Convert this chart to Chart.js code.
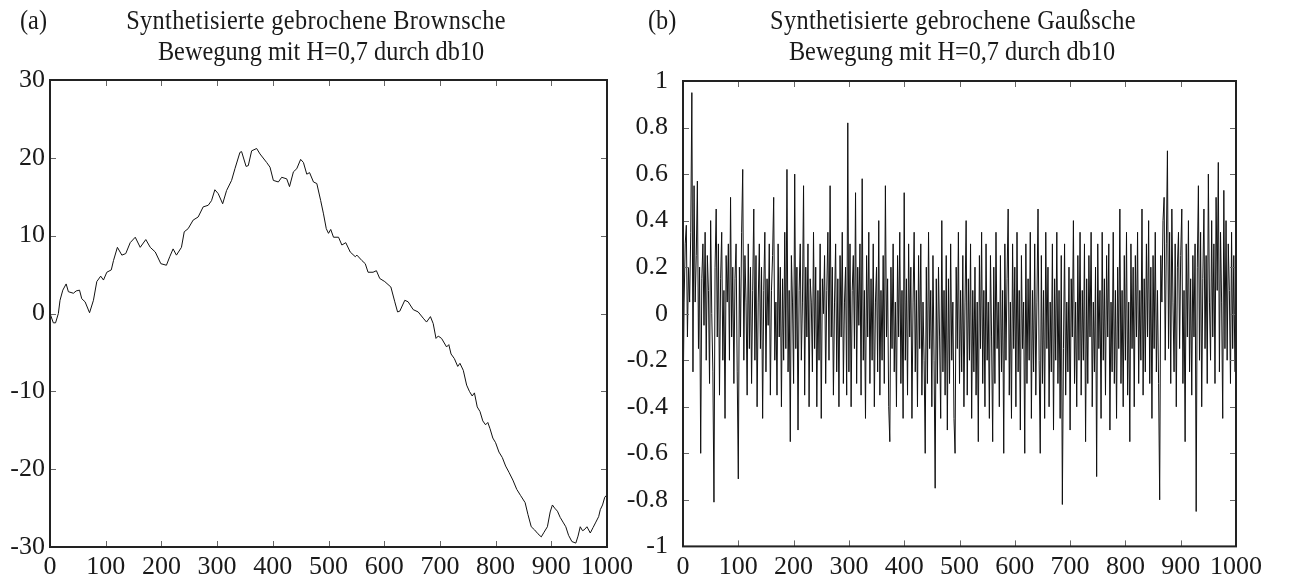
<!DOCTYPE html>
<html>
<head>
<meta charset="utf-8">
<script src="https://cdn.jsdelivr.net/npm/chart.js@4.4.1/dist/chart.umd.min.js"></script>
<style>
  html, body { margin: 0; padding: 0; background: #fff; }
  #wrap { position: relative; width: 1291px; height: 577px; overflow: hidden; background: #fff; }
  canvas { position: absolute; left: 0; top: 0; }
  .t { position: absolute; font-family: "Liberation Serif", "Times New Roman", serif; font-size: 27px;
       color: #1a1a1a; white-space: nowrap; line-height: 1; transform-origin: 0 0; transform: scaleX(0.9); }
  .c { transform: translateX(-50%) scaleX(0.9); transform-origin: 50% 0; }
  .sp { letter-spacing: 0.4px; }
</style>
</head>
<body>
<div id="wrap">
  <canvas id="chartA" width="1291" height="577"></canvas>
  <canvas id="chartB" width="1291" height="577"></canvas>
  <div class="t" style="left:20px; top:7px;">(a)</div>
  <div class="t c sp" style="left:316px; top:7px;">Synthetisierte gebrochene Brownsche</div>
  <div class="t c" style="left:321px; top:38px;">Bewegung mit H=0,7 durch db10</div>
  <div class="t" style="left:648px; top:7px;">(b)</div>
  <div class="t c sp" style="left:953px; top:7px;">Synthetisierte gebrochene Gaußsche</div>
  <div class="t c" style="left:952px; top:38px;">Bewegung mit H=0,7 durch db10</div>
</div>
<script>
// Sample index ticks shared by both panels
const xTicks = [0, 100, 200, 300, 400, 500, 600, 700, 800, 900, 1000];
const brownTicks = [-30, -20, -10, 0, 10, 20, 30];
const gaussTicks = [-1, -0.8, -0.6, -0.4, -0.2, 0, 0.2, 0.4, 0.6, 0.8, 1];

// (a) fractional Brownian motion, H = 0.7
const brownX = [0, 6, 10, 15, 18, 23, 29, 33, 42, 47, 53, 57, 63, 71, 78, 84, 91, 96, 102, 110,
  114, 121, 129, 136, 144, 153, 162, 172, 180, 189, 199, 209, 215, 221, 227, 236, 241, 248, 257, 266,
  275, 284, 290, 296, 302, 310, 317, 326, 332, 341, 344, 352, 356, 362, 371, 377, 389, 395, 401, 410,
  416, 425, 430, 437, 443, 450, 455, 461, 466, 473, 479, 486, 491, 496, 500, 504, 509, 518, 524, 531,
  539, 548, 551, 560, 566, 571, 580, 586, 592, 601, 612, 619, 624, 628, 637, 643, 652, 661, 670, 676,
  683, 688, 693, 697, 703, 712, 716, 720, 726, 732, 736, 742, 748, 753, 758, 762, 767, 772, 777, 782,
  786, 790, 795, 800, 806, 812, 818, 824, 831, 838, 845, 853, 858, 864, 870, 876, 882, 887, 893, 898,
  902, 906, 911, 916, 921, 926, 931, 937, 944, 948, 952, 956, 959, 964, 970, 975, 980, 985, 988, 992,
  996, 1000];
const brownY = [0, -1.2, -1.2, 0, 1.7, 3.0, 3.8, 2.8, 2.6, 2.9, 3.0, 1.9, 1.5, 0.1, 1.7, 4.1, 4.8, 4.3, 5.3, 5.6,
  6.8, 8.5, 7.5, 7.7, 9.1, 9.8, 8.5, 9.5, 8.5, 7.9, 6.4, 6.2, 7.3, 8.3, 7.5, 8.5, 10.5, 10.9, 12.0, 12.4,
  13.7, 13.9, 14.5, 15.9, 15.4, 14.1, 15.8, 17.1, 18.6, 20.7, 20.8, 18.9, 19.0, 20.9, 21.2, 20.5, 19.4, 18.8, 17.1, 16.9,
  17.5, 17.3, 16.3, 18.2, 18.6, 19.8, 19.4, 17.9, 18.1, 16.9, 16.7, 14.5, 12.8, 10.9, 10.3, 10.8, 9.8, 9.8, 8.8, 9.1,
  7.9, 7.3, 7.5, 6.8, 6.4, 5.3, 5.3, 5.5, 4.5, 4.1, 3.4, 1.5, 0.2, 0.3, 1.7, 1.5, 0.5, 0.2, -0.6, -1.1,
  -0.4, -1.3, -3.2, -2.9, -3.2, -4.3, -4.0, -5.2, -5.8, -6.8, -6.4, -7.3, -9.2, -10.0, -10.6, -10.2, -12.0, -12.6, -13.8, -14.3,
  -14.0, -14.8, -16.0, -16.6, -17.8, -18.5, -19.6, -20.4, -21.4, -22.6, -23.4, -24.3, -25.8, -27.4, -27.8, -28.3, -28.7, -28.1, -27.4, -25.5,
  -24.6, -25.0, -25.4, -26.2, -26.8, -27.4, -28.5, -29.3, -29.5, -28.6, -27.4, -27.9, -27.8, -27.4, -28.2, -27.5, -26.8, -26.1, -25.2, -24.6,
  -23.6, -23.3];

// (b) fractional Gaussian noise, H = 0.7 — every second sample of the 1000-sample record
const gaussStep = 2;
const gaussY = [
  -0.45, 0.05, 0.30, 0.38, -0.10, 0.20, 0.05, 0.35, 0.95, -0.25, 0.55, 0.05, 0.25, 0.57, -0.15, 0.20, -0.60, 0.15, 0.30, -0.05,
  0.35, -0.20, 0.25, 0.10, -0.30, 0.40, 0.00, -0.25, -0.81, 0.20, 0.45, -0.10, 0.30, -0.35, 0.15, 0.35, -0.20, 0.10, -0.45, 0.25,
  0.05, 0.30, -0.20, 0.50, -0.10, 0.20, -0.30, 0.15, 0.30, -0.25, -0.71, 0.20, -0.10, 0.35, 0.62, -0.20, 0.25, 0.05, -0.35, 0.30,
  -0.15, 0.20, -0.30, 0.10, 0.45, -0.20, 0.25, -0.40, 0.05, 0.30, -0.15, 0.20, -0.45, 0.10, 0.35, -0.25, 0.15, -0.05, 0.30, -0.35,
  0.10, 0.25, 0.50, -0.20, 0.05, -0.35, 0.30, -0.10, 0.20, -0.40, 0.15, -0.20, 0.35, -0.15, 0.62, -0.25, 0.10, -0.55, 0.25, 0.05,
  -0.30, 0.60, -0.15, 0.20, -0.50, 0.10, 0.30, -0.20, 0.05, 0.55, -0.35, 0.20, -0.10, 0.30, -0.40, 0.15, 0.05, -0.25, 0.35, -0.15,
  0.20, -0.40, 0.10, -0.20, 0.30, -0.45, 0.15, 0.00, 0.25, -0.30, 0.10, 0.35, -0.20, 0.55, -0.10, 0.20, -0.35, 0.05, 0.30, -0.25,
  0.15, -0.40, 0.25, -0.10, 0.35, -0.30, 0.05, 0.20, -0.35, 0.82, -0.25, 0.30, -0.40, 0.10, 0.25, -0.15, 0.52, -0.30, 0.20, -0.05,
  0.30, -0.35, 0.58, -0.20, 0.10, -0.45, 0.25, -0.10, 0.35, -0.30, 0.15, -0.20, 0.30, -0.40, 0.05, 0.20, -0.25, 0.40, -0.35, 0.10,
  -0.20, 0.25, -0.30, 0.55, -0.10, 0.15, -0.40, -0.55, 0.20, -0.15, 0.30, -0.25, 0.05, -0.40, 0.25, -0.10, 0.35, -0.30, 0.10, -0.45,
  0.52, -0.20, 0.15, -0.35, 0.30, -0.10, 0.20, -0.45, 0.05, 0.35, -0.25, 0.10, -0.40, 0.25, -0.15, 0.30, -0.35, 0.05, -0.20, -0.60,
  0.20, -0.30, 0.35, -0.15, 0.10, -0.40, 0.25, -0.20, -0.75, 0.15, -0.30, 0.20, -0.10, -0.45, 0.40, -0.25, 0.10, -0.35, 0.25, -0.50,
  0.15, -0.30, 0.30, -0.20, 0.05, -0.45, -0.60, 0.20, -0.15, 0.35, -0.30, 0.10, -0.25, 0.25, -0.40, 0.05, 0.40, -0.35, 0.15, -0.20,
  0.30, -0.45, 0.10, -0.25, 0.20, -0.35, 0.05, -0.55, 0.25, -0.15, 0.35, -0.30, 0.10, -0.40, 0.30, -0.20, 0.05, -0.45, 0.25, -0.10,
  -0.55, 0.20, -0.30, 0.35, -0.15, 0.05, -0.40, 0.25, -0.25, 0.10, -0.60, 0.30, -0.20, 0.15, 0.45, -0.35, 0.05, -0.45, 0.30, -0.15,
  0.20, -0.40, 0.35, -0.25, 0.10, -0.50, 0.25, -0.15, 0.05, -0.60, 0.30, -0.30, 0.15, -0.20, 0.35, -0.45, 0.10, -0.25, 0.30, -0.35,
  0.05, 0.45, -0.20, -0.60, 0.25, -0.30, 0.10, -0.45, 0.35, -0.15, 0.20, -0.40, 0.05, -0.25, 0.30, -0.50, 0.15, -0.20, 0.35, -0.30,
  0.10, -0.45, 0.25, -0.82, -0.15, 0.30, -0.35, 0.05, -0.25, 0.20, -0.50, 0.15, -0.10, 0.40, -0.30, 0.05, -0.40, 0.25, -0.20, 0.35,
  -0.35, 0.10, -0.20, 0.30, -0.55, 0.15, -0.30, 0.25, -0.10, 0.35, -0.40, 0.05, -0.25, 0.20, -0.70, 0.30, -0.15, 0.10, -0.45, 0.35,
  -0.20, 0.15, -0.35, 0.25, -0.10, 0.30, -0.50, 0.05, -0.25, 0.35, -0.30, 0.10, -0.45, 0.20, -0.15, 0.45, -0.30, 0.10, -0.40, 0.25,
  -0.20, 0.35, -0.35, 0.05, -0.55, 0.30, -0.15, 0.20, -0.40, 0.25, -0.10, 0.35, -0.30, 0.10, -0.20, 0.45, -0.35, 0.15, -0.25, 0.30,
  -0.10, 0.40, -0.30, 0.20, -0.45, 0.25, -0.15, 0.35, -0.25, 0.10, -0.30, -0.80, 0.25, 0.05, 0.40, 0.50, -0.20, 0.30, 0.70, -0.15,
  0.35, -0.30, 0.45, 0.05, -0.25, 0.30, -0.40, 0.20, 0.35, -0.15, 0.25, 0.45, -0.30, 0.10, -0.55, 0.30, -0.10, 0.40, -0.25, 0.15,
  -0.35, 0.25, -0.10, 0.30, -0.85, 0.20, 0.55, -0.20, 0.35, -0.40, 0.15, 0.45, -0.15, 0.25, -0.30, 0.60, 0.05, -0.20, 0.40, -0.10,
  0.30, -0.30, 0.50, 0.10, 0.65, -0.25, 0.35, 0.05, -0.45, 0.53, -0.15, 0.40, -0.20, 0.30, 0.10, -0.30, 0.35, -0.15, 0.25, -0.25
];

const FONT = { family: '"Liberation Serif", "Times New Roman", serif', size: 26 };
const INK = '#1a1a1a';

// Frame around the plot area with short inward ticks on all four sides
const frameTicks = {
  id: 'frameTicks',
  afterDraw(chart) {
    const { ctx, chartArea: a, scales: { x, y } } = chart;
    const len = 6;
    ctx.save();
    ctx.strokeStyle = '#666';
    ctx.lineWidth = 1;
    ctx.beginPath();
    x.ticks.forEach(t => {
      const px = Math.round(x.getPixelForValue(t.value)) + 0.5;
      ctx.moveTo(px, a.bottom); ctx.lineTo(px, a.bottom - len);
      ctx.moveTo(px, a.top); ctx.lineTo(px, a.top + len);
    });
    y.ticks.forEach(t => {
      const py = Math.round(y.getPixelForValue(t.value)) + 0.5;
      ctx.moveTo(a.left, py); ctx.lineTo(a.left + len, py);
      ctx.moveTo(a.right, py); ctx.lineTo(a.right - len, py);
    });
    ctx.stroke();
    ctx.strokeStyle = '#222';
    ctx.lineWidth = 2;
    ctx.strokeRect(a.left, a.top, a.right - a.left, a.bottom - a.top);
    ctx.restore();
  }
};

function makeChart(id, points, yMin, yMax, yTickVals, pad, yWidth, yPad) {
  return new Chart(document.getElementById(id), {
    type: 'line',
    data: { datasets: [{ data: points, borderColor: '#111', borderWidth: 1, pointRadius: 0, tension: 0, fill: false }] },
    options: {
      responsive: false,
      animation: false,
      devicePixelRatio: 1,
      layout: { padding: pad },
      plugins: { legend: { display: false }, tooltip: { enabled: false } },
      scales: {
        x: {
          type: 'linear', min: 0, max: 1000,
          afterBuildTicks: s => { s.ticks = xTicks.map(v => ({ value: v })); },
          afterFit: s => { s.height = 30; },
          grid: { display: false, drawTicks: false },
          border: { display: false },
          ticks: { font: FONT, color: INK, padding: 5, maxRotation: 0, autoSkip: false,
                   callback: v => String(v) }
        },
        y: {
          type: 'linear', min: yMin, max: yMax,
          afterBuildTicks: s => { s.ticks = yTickVals.map(v => ({ value: v })); },
          afterFit: s => { s.width = yWidth; },
          grid: { display: false, drawTicks: false },
          border: { display: false },
          ticks: { font: FONT, color: INK, padding: yPad, autoSkip: false,
                   callback: v => String(v) }
        }
      }
    },
    plugins: [frameTicks]
  });
}

const brownPts = brownX.map((v, i) => ({ x: v, y: brownY[i] }));
const gaussPts = gaussY.map((v, i) => ({ x: i * gaussStep, y: v }));

makeChart('chartA', brownPts, -30, 30, brownTicks,
  { left: 0, top: 80, right: 684, bottom: 0 }, 50, 5);
makeChart('chartB', gaussPts, -1, 1, gaussTicks,
  { left: 603, top: 81, right: 55, bottom: 0 }, 80, 15);
</script>
</body>
</html>
